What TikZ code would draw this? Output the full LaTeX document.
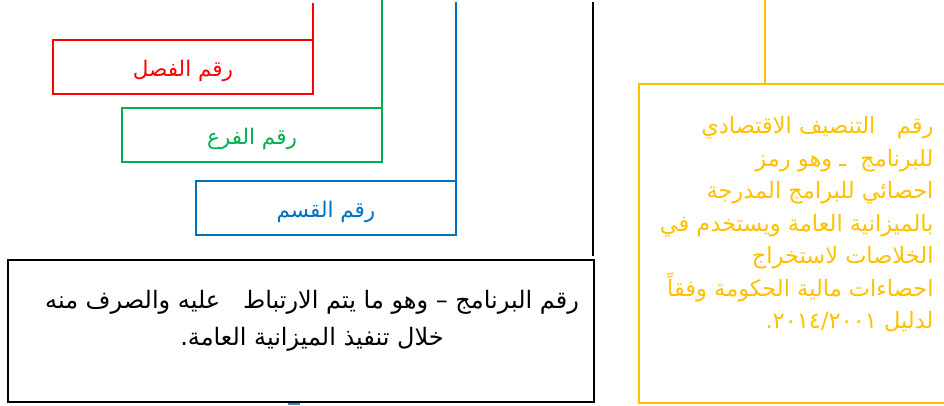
\documentclass[tikz,border=0pt]{standalone}
\usepackage{fontspec}
\usepackage{tikz}
\newfontfamily\arabicfont[Script=Arabic]{DejaVu Sans}
\TeXXeTstate=1
\definecolor{redc}{RGB}{255,0,0}
\definecolor{greenc}{RGB}{0,176,80}
\definecolor{bluec}{RGB}{0,112,192}
\definecolor{yellowc}{RGB}{255,192,0}

\begin{document}
\begin{tikzpicture}[x=1pt,y=-1pt,
		box/.style={shape=rectangle,draw,line width=2pt,inner sep=0pt,minimum width=260pt,minimum height=54pt,text height=19.5pt,text depth=0pt,font=\arabicfont\fontsize{21.5}{24}\selectfont},
		link/.style={line width=2pt}]
		\useasboundingbox (0,0) rectangle (944,405);
		% three code boxes
		\node [box,draw=redc,text=redc] (fasl) at (183,67) {\beginR رقم الفصل\endR};
		\node [box,draw=greenc,text=greenc] (far) at (252,135) {\beginR رقم الفرع\endR};
		\node [box,draw=bluec,text=bluec] (qism) at (326,208) {\beginR رقم القسم\endR};
		\coordinate (fasltop) at (313,3);
		\coordinate (fartop) at (382,0);
		\coordinate (qismtop) at (456,2);
		\draw [link,redc] (fasltop) -- (fasltop |- fasl.north);
		\draw [link,greenc] (fartop) -- (fartop |- far.north);
		\draw [link,bluec] (qismtop) -- (qismtop |- qism.north);
		% programme number
		\node [shape=rectangle,draw=black,line width=2pt,minimum width=586pt,minimum height=142pt] (prog) at (301,331) {};
		\coordinate (progtop) at (593,2);
		\draw [link] (progtop) -- ([yshift=3pt]progtop |- prog.north);
		\node [font=\arabicfont\fontsize{24}{37}\selectfont,align=center,anchor=north] (progtext) at (312,287) {\beginR رقم البرنامج – وهو ما يتم الارتباط\ \ \ عليه والصرف منه\endR\\\beginR خلال تنفيذ الميزانية العامة.\endR};
		\fill [bluec!80] (288,403) rectangle (300,405);
		% economic classification
		\node [shape=rectangle,draw=yellowc,line width=2pt,minimum width=311pt,minimum height=319pt] (econ) at (794.5,243.5) {};
		\coordinate (econtop) at (765,0);
		\draw [link,yellowc] (econtop) -- (econtop |- econ.north);
		\node [font=\arabicfont\fontsize{22.5}{32.5}\selectfont,text=yellowc,align=right,anchor=north east] (econtext) at (937,113) {\beginR رقم\ \ \ التنصيف الاقتصادي\endR\\\beginR للبرنامج\ \ ـ وهو رمز\endR\\\beginR احصائي للبرامج المدرجة\endR\\\beginR بالميزانية العامة ويستخدم في\endR\\\beginR الخلاصات لاستخراج\endR\\\beginR احصاءات مالية الحكومة وفقاً\endR\\\beginR لدليل \beginL٢٠١٤/٢٠٠١\endL.\endR};
\end{tikzpicture}
\end{document}
